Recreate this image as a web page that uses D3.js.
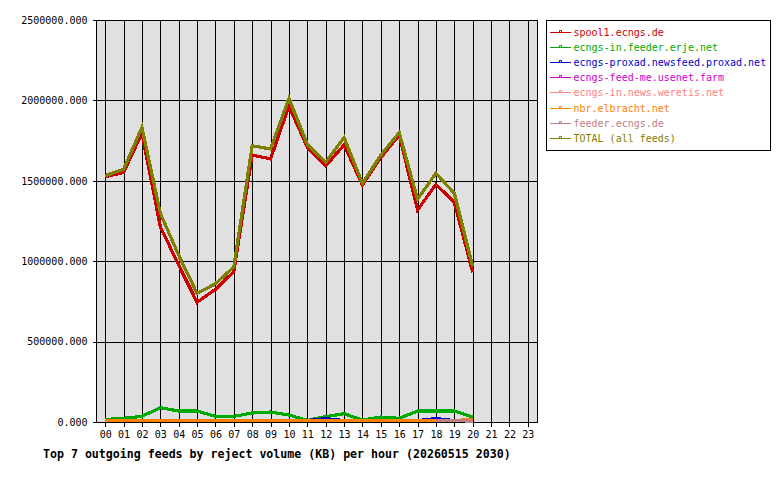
<!DOCTYPE html>
<html>
<head>
	<title>Top 7 outgoing feeds by reject volume</title>
	<style>
		body { margin: 0; background: #fff; }
		text { font-family: "DejaVu Sans Mono", monospace; }
	</style>
</head>
<body>
	<svg id="canvas" width="780" height="480"></svg>
	<script type="text/javascript" src="https://cdn.jsdelivr.net/npm/d3@7"></script>
	<script type="text/javascript">
		// hours on the x axis
		let hours = ["00","01","02","03","04","05","06","07","08","09","10","11",
		             "12","13","14","15","16","17","18","19","20","21","22","23"];

		let yTicks = [0, 500000, 1000000, 1500000, 2000000, 2500000];

		// values per hour (KB), null = no data
		let spool1 = [1525000, 1552000, 1795000, 1215000, 975000, 745000, 825000, 935000,
		              1660000, 1636000, 1965000, 1708000, 1592000, 1723000, 1474000, 1644000,
		              1785000, 1318000, 1478000, 1366000, 931000];
		let erje = [15500, 23000, 35000, 89000, 68000, 68000, 35000, 35000, 56000, 62000, 43500,
		            10000, 33000, 52000, 12000, 31000, 23000, 68000, 68000, 68000, 31000];
		let proxad = [null, null, null, null, null, null, null, null, null, null, null,
		              9000, 21000, 9000, null, null, null, 9000, 21000, 9000, null];
		let feedme = [9000, 9000, 9000, 9000, 9000, 9000, 9000, 9000, 9000, 9000, 9000,
		              9000, 9000, 9000, 9000, 9000, 9000, 9000, 9000, 9000, 9000];
		let weretis = [10000, 10000, 10000, 10000, 10000, 10000, 10000, 10000, 10000, 10000, 10000,
		               10000, 10000, 10000, 10000, 10000, 10000, 10000, 10000, 10000, 10000];
		let elbracht = [11000, 11000, 11000, 11000, 11000, 11000, 11000, 11000, 11000, 11000, 11000,
		                11000, 11000, 11000, 11000, 11000, 11000, 11000, 11000, 11000, 13000];
		let feederEcngs = [null, null, null, null, null, null, null, null, null, null, null,
		                   null, null, null, null, null, null, null, 11000, 11000, 4000];
		let total = [1532000, 1571000, 1833000, 1298000, 1037000, 800000, 860000, 964000,
		             1718000, 1698000, 2013000, 1727000, 1615000, 1768000, 1484000, 1660000,
		             1800000, 1385000, 1547000, 1422000, 966000];

		let feedNames = ["spool1.ecngs.de", "ecngs-in.feeder.erje.net", "ecngs-proxad.newsfeed.proxad.net",
		                 "ecngs-feed-me.usenet.farm", "ecngs-in.news.weretis.net", "nbr.elbracht.net",
		                 "feeder.ecngs.de", "TOTAL (all feeds)"];
		let feedColors = ["#cc0000", "#00aa00", "#0000cc", "#cc00cc", "#ff8080", "#ff8000", "#c08080", "#808000"];
		let feedValues = [spool1, erje, proxad, feedme, weretis, elbracht, feederEcngs, total];

		let svg = d3.select("#canvas");
		let plot = {left: 96, right: 537, top: 20, bottom: 422};

		// Scales
		let x = d3.scalePoint()
			.domain(hours)
			.range([plot.left, plot.right])
			.padding(0.5);
		let y = d3.scaleLinear()
			.domain([0, 2500000])
			.range([plot.bottom, plot.top]);

		// plot background
		svg.append("rect")
			.attr("x", plot.left + 0.5)
			.attr("y", plot.top + 0.5)
			.attr("width", plot.right - plot.left)
			.attr("height", plot.bottom - plot.top)
			.attr("fill", "#e0e0e0");

		// x axis, ticks stretched up into grid lines
		let xAxis = svg.append("g")
			.attr("transform", "translate(0," + (plot.bottom + 0.5) + ")")
			.call(d3.axisBottom(x).tickSizeInner(0).tickSizeOuter(0).tickPadding(8));
		xAxis.select(".domain").remove();
		xAxis.selectAll(".tick line")
			.attr("y2", -(plot.bottom - plot.top))
			.attr("y1", 4)
			.attr("stroke", "#000")
			.attr("shape-rendering", "crispEdges");
		xAxis.selectAll(".tick text")
			.attr("font-size", "10px")
			.attr("font-family", "DejaVu Sans Mono")
			.attr("fill", "#000");

		// y axis
		let yAxis = svg.append("g")
			.attr("transform", "translate(" + (plot.left + 0.5) + ",0)")
			.call(d3.axisLeft(y).tickValues(yTicks).tickFormat(d3.format(".3f")).tickSizeOuter(0).tickPadding(3));
		yAxis.select(".domain").remove();
		yAxis.selectAll(".tick line")
			.attr("x1", -4)
			.attr("x2", plot.right - plot.left)
			.attr("stroke", "#000")
			.attr("shape-rendering", "crispEdges");
		yAxis.selectAll(".tick text")
			.attr("font-size", "10px")
			.attr("font-family", "DejaVu Sans Mono")
			.attr("fill", "#000");

		// frame
		svg.append("rect")
			.attr("x", plot.left + 0.5)
			.attr("y", plot.top + 0.5)
			.attr("width", plot.right - plot.left)
			.attr("height", plot.bottom - plot.top)
			.attr("fill", "none")
			.attr("stroke", "#000")
			.attr("shape-rendering", "crispEdges");

		// lines
		let line = d3.line()
			.defined(function(d){ return d != null; })
			.x(function(d, i){ return x(hours[i]); })
			.y(function(d){ return y(d); });

		feedValues.forEach(function(vals, k){
			svg.append("path")
				.attr("d", line(vals))
				.attr("fill", "none")
				.attr("stroke", feedColors[k])
				.attr("stroke-width", 3.2)
				.attr("stroke-linejoin", "miter")
				.attr("shape-rendering", "crispEdges");
		});

		// title
		svg.append("text")
			.attr("x", 43)
			.attr("y", 458)
			.attr("font-size", "11.6px")
			.attr("font-weight", "bold")
			.attr("fill", "#000")
			.text("Top 7 outgoing feeds by reject volume (KB) per hour (20260515 2030)");

		// legend
		let legend = svg.append("g");
		legend.append("rect")
			.attr("x", 546.5)
			.attr("y", 20.5)
			.attr("width", 224)
			.attr("height", 130)
			.attr("fill", "#fff")
			.attr("stroke", "#000")
			.attr("shape-rendering", "crispEdges");

		let rows = legend.selectAll("g.row")
			.data(feedNames)
			.enter()
			.append("g")
				.attr("class", "row")
				.attr("transform", function(d, i){ return "translate(0," + (32 + Math.round(i * 15.1)) + ")"; });

		rows.append("path")
			.attr("d", "M550,0.5H571")
			.attr("fill", "none")
			.attr("stroke", function(d, i){ return feedColors[i]; })
			.attr("stroke-width", 1);
		rows.append("path")
			.attr("d", "M559.5,-1.5h2v2h-2z")
			.attr("fill", "none")
			.attr("stroke", function(d, i){ return feedColors[i]; })
			.attr("stroke-width", 1);
		rows.append("text")
			.attr("x", 573.5)
			.attr("y", 4)
			.attr("font-size", "10px")
			.attr("fill", function(d, i){ return feedColors[i]; })
			.text(function(d){ return d; });
	</script>
</body>
</html>
